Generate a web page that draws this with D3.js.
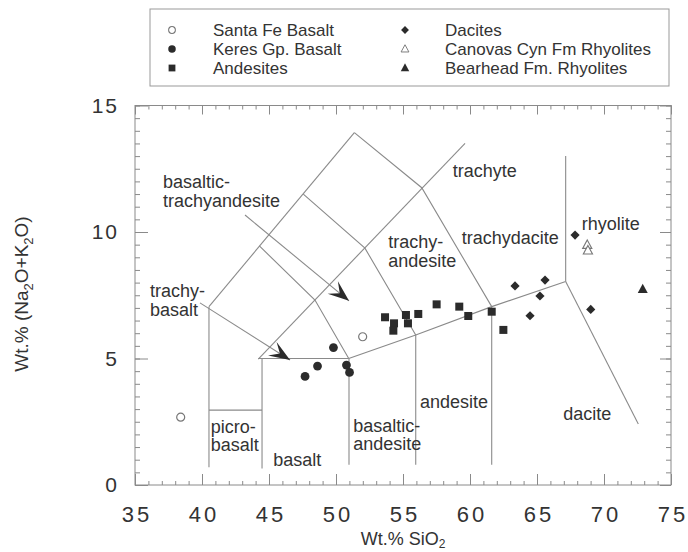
<!DOCTYPE html>
<html><head><meta charset="utf-8">
<script src="https://cdn.jsdelivr.net/npm/d3@7"></script>
<style>body{margin:0;background:#fff}</style>
</head><body>
<svg id="chart" width="688" height="552"></svg>
<script>
// ---- data (Wt.% SiO2, Wt.% Na2O+K2O) ----
const santaFe   = [[38.41,2.68],[51.99,5.86]];
const keres     = [[47.69,4.29],[48.62,4.70],[49.81,5.43],[50.78,4.74],[51.01,4.45]];
const andesites = [[53.66,6.63],[54.33,6.39],[54.28,6.10],[55.22,6.72],[55.37,6.39],[56.14,6.76],
                   [57.51,7.14],[59.20,7.05],[59.87,6.68],[61.62,6.85],[62.49,6.13]];
const dacites   = [[67.84,9.88],[63.36,7.87],[65.60,8.10],[65.22,7.47],[64.48,6.69],[69.01,6.94]];
const canovas   = [[68.75,9.49],[68.80,9.27]];
const bearhead  = [[72.89,7.74]];

const xMajorTicks = [35,40,45,50,55,60,65,70,75];
const xMinorTicks = [35,36,37,38,39,40,41,42,43,44,45,46,47,48,49,50,51,52,53,54,55,56,57,58,59,60,
                     61,62,63,64,65,66,67,68,69,70,71,72,73,74,75];
const yMajorTicks = [0,5,10,15];
const yMinorTicks = [0,0.5,1,1.5,2,2.5,3,3.5,4,4.5,5,5.5,6,6.5,7,7.5,8,8.5,9,9.5,10,10.5,11,11.5,12,12.5,13,13.5,14,14.5,15];

// TAS field boundaries as drawn in the figure
const fieldLines = [
  [[40.52,0.7],[40.52,7.05]],
  [[40.52,2.96],[44.48,2.96]],
  [[44.48,0.65],[44.48,5.0]],
  [[44.2,5.0],[50.95,5.0]],
  [[50.97,0.8],[50.97,5.0]],
  [[55.95,0.8],[55.95,5.93]],
  [[61.62,0.8],[61.62,7.05]],
  [[50.95,5.0],[55.95,5.93],[61.62,7.05],[67.14,8.04]],
  [[67.14,8.04],[67.14,13.0]],
  [[67.14,8.04],[72.56,2.41]],
  [[40.52,7.05],[51.37,13.93]],
  [[44.2,4.98],[59.63,13.5]],
  [[44.28,9.45],[48.43,7.31],[50.95,5.0]],
  [[47.56,11.5],[52.16,9.36],[55.95,5.93]],
  [[51.37,13.93],[56.4,11.75],[61.62,7.05]]
];
const leaders = [
  [[43.21,10.67],[50.97,7.28]],
  [[39.85,7.20],[46.57,4.94]]
];
const fieldLabelText = [["basaltic-","trachyandesite"],["trachy-","basalt"],["picro-","basalt"],["basalt"],
  ["basaltic-","andesite"],["andesite"],["dacite"],["trachyte"],["rhyolite"],["trachydacite"],["trachy-","andesite"]];
const fieldLabelPos = [[37.09,11.73],[36.12,7.42],[40.65,2.06],[45.32,0.75],[51.29,2.11],[56.27,3.03],
  [66.96,2.57],[58.71,12.16],[68.34,10.08],[59.38,9.51],[53.90,9.36]];

const legendNames = ["Santa Fe Basalt","Keres Gp. Basalt","Andesites","Dacites","Canovas Cyn Fm Rhyolites","Bearhead Fm. Rhyolites"];

// ---- drawing ----
const svg = d3.select("#chart");
const FONT = "'Liberation Sans', Arial, Helvetica, sans-serif";
const INK = "#2b2b2b", LINE = "#8a8a8a", TXT = "#333";
const L = 135, R = 671, T = 105.5, B = 485;
const x = d3.scaleLinear().domain([35,75]).range([L,R]);
const y = d3.scaleLinear().domain([0,15]).range([B,T]);

// frame
svg.append("rect").attr("x",L).attr("y",T).attr("width",R-L).attr("height",B-T)
  .attr("fill","none").attr("stroke",LINE).attr("stroke-width",1);

function tickAxis(axis, g){ g.call(axis); g.select(".domain").remove(); g.selectAll("line").attr("stroke",LINE); g.selectAll("text").remove(); }
tickAxis(d3.axisBottom(x).tickValues(xMinorTicks).tickSize(-4), svg.append("g").attr("transform",`translate(0,${B})`));
tickAxis(d3.axisBottom(x).tickValues(xMajorTicks).tickSize(-11), svg.append("g").attr("transform",`translate(0,${B})`));
tickAxis(d3.axisTop(x).tickValues(xMinorTicks).tickSize(-4), svg.append("g").attr("transform",`translate(0,${T})`));
tickAxis(d3.axisTop(x).tickValues(xMajorTicks).tickSize(-9), svg.append("g").attr("transform",`translate(0,${T})`));
tickAxis(d3.axisLeft(y).tickValues(yMinorTicks).tickSize(-5), svg.append("g").attr("transform",`translate(${L},0)`));
tickAxis(d3.axisLeft(y).tickValues(yMajorTicks).tickSize(-13), svg.append("g").attr("transform",`translate(${L},0)`));
tickAxis(d3.axisRight(y).tickValues(yMinorTicks).tickSize(-5), svg.append("g").attr("transform",`translate(${R},0)`));
tickAxis(d3.axisRight(y).tickValues(yMajorTicks).tickSize(-11), svg.append("g").attr("transform",`translate(${R},0)`));

// tick labels
const gxl = svg.append("g").attr("transform",`translate(0,${B})`)
  .call(d3.axisBottom(x).tickValues(xMajorTicks).tickSize(0).tickPadding(21).tickFormat(d3.format("d")));
gxl.select(".domain").remove();
gxl.selectAll("text").attr("font-family",FONT).attr("font-size",22).attr("fill",TXT)
  .style("letter-spacing","3px").attr("dx","1.5px");
const gyl = svg.append("g").attr("transform",`translate(${L},0)`)
  .call(d3.axisLeft(y).tickValues(yMajorTicks).tickSize(0).tickPadding(16).tickFormat(d3.format("d")));
gyl.select(".domain").remove();
gyl.selectAll("text").attr("font-family",FONT).attr("font-size",21).attr("fill",TXT)
  .style("letter-spacing","2px");

// axis titles
const xt = svg.append("text").attr("x",403).attr("y",545).attr("text-anchor","middle")
  .attr("font-family",FONT).attr("font-size",18).attr("fill",TXT);
xt.append("tspan").text("Wt.% SiO");
xt.append("tspan").attr("font-size",12).attr("dy",3).text("2");
const yt = svg.append("text").attr("transform","translate(28,294) rotate(-90)").attr("text-anchor","middle")
  .attr("font-family",FONT).attr("font-size",19).attr("fill",TXT);
yt.append("tspan").text("Wt.% (Na");
yt.append("tspan").attr("font-size",13).attr("dy",5).text("2");
yt.append("tspan").attr("dy",-5).text("O+K");
yt.append("tspan").attr("font-size",13).attr("dy",5).text("2");
yt.append("tspan").attr("dy",-5).text("O)");

// field boundaries
const line = d3.line().x(d=>x(d[0])).y(d=>y(d[1]));
svg.append("g").selectAll("path").data(fieldLines).join("path")
  .attr("d",line).attr("fill","none").attr("stroke",LINE).attr("stroke-width",1.1);

// leaders with stealth arrowheads
svg.append("defs").append("marker").attr("id","arr").attr("viewBox","-22 -9 23 18")
  .attr("refX",0).attr("refY",0).attr("markerWidth",23).attr("markerHeight",18)
  .attr("markerUnits","userSpaceOnUse").attr("orient","auto")
  .append("path").attr("d","M0,0 L-21,-8 L-12,0 L-21,8 Z").attr("fill",INK);
svg.append("g").selectAll("path").data(leaders).join("path")
  .attr("d",line).attr("fill","none").attr("stroke",LINE).attr("stroke-width",1.1)
  .attr("marker-end","url(#arr)");

// field labels
const lab = svg.append("g").attr("font-family",FONT).attr("font-size",18).attr("fill",TXT);
fieldLabelText.forEach((lines,i)=>{
  const t = lab.append("text").attr("x",x(fieldLabelPos[i][0])).attr("y",y(fieldLabelPos[i][1]));
  lines.forEach((s,j)=>t.append("tspan").attr("x",x(fieldLabelPos[i][0])).attr("dy", j?18.5:0).text(s));
});

// symbols
const sym = {
  santa: g=>g.append("circle").attr("r",4).attr("fill","#fff").attr("stroke","#777").attr("stroke-width",1.2),
  keres: g=>g.append("circle").attr("r",4.4).attr("fill",INK),
  andes: g=>g.append("rect").attr("x",-4).attr("y",-4).attr("width",8).attr("height",8).attr("fill",INK),
  dacite: g=>g.append("path").attr("d","M0,-4.6 L4.6,0 L0,4.6 L-4.6,0 Z").attr("fill",INK),
  canovas: g=>g.append("path").attr("d","M0,-5 L4.6,3.5 L-4.6,3.5 Z").attr("fill","#fff").attr("stroke","#777").attr("stroke-width",1.1),
  bear: g=>g.append("path").attr("d","M0,-5.5 L5,3.8 L-5,3.8 Z").attr("fill",INK)
};
const series = [[santaFe,"santa"],[keres,"keres"],[andesites,"andes"],[dacites,"dacite"],[canovas,"canovas"],[bearhead,"bear"]];
series.forEach(([data,k])=>{
  svg.append("g").selectAll("g").data(data).join("g")
    .attr("transform",d=>`translate(${x(d[0])},${y(d[1])})`)
    .each(function(){ sym[k](d3.select(this)); });
});

// legend
const lg = svg.append("g");
lg.append("rect").attr("x",150).attr("y",9).attr("width",519).attr("height",77)
  .attr("fill","none").attr("stroke","#999").attr("stroke-width",1);
const keys = ["santa","keres","andes","dacite","canovas","bear"];
legendNames.forEach((n,i)=>{
  const col = Math.floor(i/3), row = i%3;
  const sx = col ? 405 : 172, tx = col ? 445 : 213, cy = 30 + row*19;
  const g = lg.append("g").attr("transform",`translate(${sx},${cy})`);
  sym[keys[i]](g);
  g.selectAll("*").attr("transform","scale(0.85)");
  lg.append("text").attr("x",tx).attr("y",cy+6).attr("font-family",FONT).attr("font-size",17)
    .attr("fill",TXT).text(n);
});
</script>
</body></html>
